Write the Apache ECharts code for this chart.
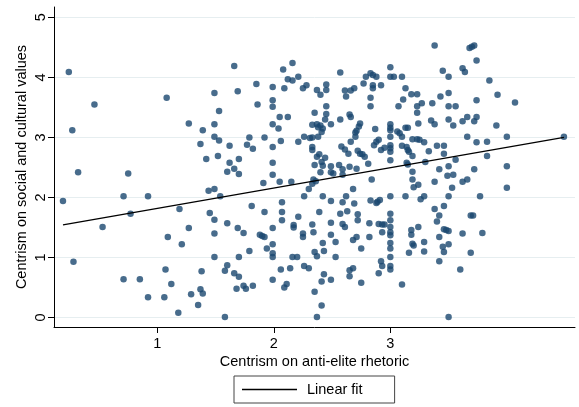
<!DOCTYPE html>
<html>
<head>
<meta charset="utf-8">
<script src="https://cdn.jsdelivr.net/npm/echarts@6/dist/echarts.min.js"></script>
<style>
html,body{margin:0;padding:0;background:#fff;}
#chart{width:579px;height:407px;}
</style>
</head>
<body>
<div id="chart"></div>
<script>
// Centrism on anti-elite rhetoric (x)
const antiElite = [
0.24,0.46,0.27,0.32,1.08,0.75,0.71,0.92,0.19,0.28,
0.53,0.71,0.85,0.77,0.92,1.06,1.07,1.12,1.09,1.19,
1.21,1.18,1.27,1.29,1.35,1.37,1.39,1.38,1.44,1.49,
1.54,1.45,1.49,1.49,1.49,1.60,1.58,1.58,1.60,1.69,
1.66,1.70,1.70,1.68,1.74,1.74,1.76,1.82,1.79,1.81,
1.88,1.90,1.92,1.92,1.94,1.99,1.99,1.99,1.99,1.99,
1.91,2.05,2.15,2.07,2.07,2.07,2.06,2.14,2.09,2.11,
2.17,2.17,2.16,2.20,2.21,1.27,1.37,1.39,1.42,1.49,
1.49,1.49,1.53,1.53,1.52,1.60,1.62,1.66,1.62,1.70,
1.70,1.66,1.69,1.77,1.79,1.82,1.85,1.86,1.92,1.99,
1.99,1.99,1.99,1.99,1.99,1.99,2.04,2.05,2.12,2.06,
2.08,2.16,2.09,2.12,2.16,2.21,2.21,2.25,2.28,2.26,
2.31,2.33,2.37,2.40,2.42,2.41,2.38,2.35,2.37,2.40,
2.45,2.45,2.45,2.45,2.44,2.49,2.38,2.33,2.33,2.35,
2.39,2.37,2.44,2.41,2.42,2.40,2.34,2.36,2.33,2.30,
2.26,2.42,2.49,2.49,2.51,2.56,2.59,2.59,
2.57,2.57,2.61,2.62,2.66,2.69,2.65,2.66,2.61,2.64,
2.65,2.71,2.66,2.70,2.71,2.70,2.73,2.74,2.72,2.74,
2.76,2.78,2.77,2.79,2.83,2.85,2.88,2.85,2.85,2.92,
2.83,2.83,2.87,2.81,2.84,2.86,2.88,2.90,2.92,2.95,
3.00,3.00,3.03,3.10,3.00,3.00,3.00,3.00,3.00,3.00,
3.00,3.00,3.06,3.08,3.10,3.13,3.11,3.07,3.13,3.15,
3.10,3.14,3.15,3.16,3.19,3.18,3.23,3.23,3.27,3.23,
3.24,3.19,3.23,3.25,3.29,3.14,3.15,3.19,3.19,3.20,
3.30,3.33,3.36,3.35,3.38,3.38,3.43,3.45,3.50,3.50,
3.50,3.56,3.50,3.54,3.40,3.46,3.46,3.42,3.50,3.49,
3.54,3.53,3.38,3.56,3.62,3.66,3.66,3.62,3.66,3.62,
3.64,3.68,3.72,3.70,3.74,3.74,3.72,3.74,3.74,3.83,
3.83,3.72,3.85,3.92,3.91,4.00,4.00,4.00,4.07,3.77,
4.49,2.49,2.62,2.68,2.83,2.91,2.88,2.89,3.00,3.13,
3.26,3.29,2.33,2.58,2.25,2.25,2.26,2.30,2.33,2.34,
2.35,2.37,2.35,2.37,2.41,2.41,2.43,2.39,2.42,2.43,
2.49,2.49,2.49,2.53,2.53,2.57,2.59,2.59,2.61,2.63,
2.69,2.72,2.72,2.68,2.71,2.75,2.65,2.68,2.65,2.75,
2.82,2.82,2.90,2.93,2.95,2.93,2.92,2.93,2.90,
3.00,3.00,3.00,3.00,3.00,3.00,3.00,3.00,3.00,3.00,
3.10,3.18,3.18,3.19,3.20,3.16,3.24,3.24,3.29,3.29,
3.38,3.46,3.42,3.40,3.42,3.46,3.48,3.50,3.50,3.45,
3.46,3.42,3.50,3.50,3.60,3.62,3.69,3.71,3.69,3.79
];
// Centrism on social and cultural values (y)
const socialCultural = [
4.09,3.55,3.12,2.42,3.66,2.40,2.02,2.02,1.94,0.93,
1.51,0.64,0.64,1.73,0.34,0.34,0.80,0.56,1.34,1.81,
1.22,0.08,1.49,0.39,0.21,0.47,0.40,0.77,2.11,2.14,
2.02,1.74,1.63,1.40,1.01,1.57,0.01,0.78,0.87,1.49,
0.74,0.68,1.01,0.48,1.41,0.53,0.48,0.53,1.11,1.86,
1.38,1.36,1.34,1.76,1.15,1.49,1.22,1.07,1.01,0.63,
2.24,2.26,2.26,1.92,1.76,1.62,0.80,0.82,0.50,0.56,
1.54,1.50,1.01,1.01,1.68,3.23,2.89,3.12,2.64,3.74,
3.22,3.01,3.44,2.95,2.69,2.43,2.58,2.48,2.86,2.64,
2.39,4.19,3.77,2.88,3.00,2.81,3.89,3.55,3.00,3.84,
3.62,3.51,3.22,2.84,2.58,2.38,3.15,3.34,3.34,2.94,
4.13,4.24,3.82,3.97,3.95,4.01,2.93,3.82,3.87,3.01,
2.99,3.21,3.22,3.20,3.15,3.09,3.17,3.41,3.79,3.71,
3.88,3.79,3.52,3.39,3.30,3.22,3.01,2.84,2.79,2.54,
2.72,2.68,2.66,2.59,2.53,2.42,2.30,2.27,2.23,2.14,
2.02,2.02,2.52,2.42,2.40,2.54,2.47,2.38,
4.08,3.30,3.78,3.68,3.78,3.82,3.38,3.34,2.80,2.73,
2.51,2.48,2.93,3.08,3.11,3.01,3.18,3.23,2.78,2.73,
2.72,2.68,3.90,4.01,4.07,4.04,4.01,3.87,3.82,3.87,
3.66,3.52,3.14,2.56,2.30,2.87,2.93,2.96,2.79,2.83,
4.17,4.01,4.01,4.01,3.22,3.16,3.12,3.01,2.87,2.82,
2.76,2.62,3.10,3.07,3.01,3.82,3.63,3.52,3.16,3.16,
2.86,2.84,2.79,2.76,2.69,3.72,3.72,3.52,3.57,3.41,
3.23,2.97,2.97,2.96,2.92,2.58,2.55,2.43,2.30,2.17,
2.59,2.77,3.57,3.28,3.22,4.53,3.68,4.11,4.01,3.74,
3.52,3.52,3.30,3.20,2.86,2.86,2.73,2.47,2.52,2.36,
2.38,2.16,2.26,2.63,3.27,3.34,3.01,2.26,2.30,4.15,
4.09,4.49,4.53,4.51,4.28,3.62,3.27,3.34,2.92,2.93,
2.69,2.47,3.95,3.71,3.20,3.01,2.52,2.16,3.58,2.02,
3.01,1.94,2.02,2.14,1.95,1.96,1.91,1.93,2.02,2.02,
1.97,2.02,3.00,2.85,1.40,1.34,0.86,0.82,1.55,1.42,
1.09,1.02,0.43,0.01,0.20,0.60,0.72,1.76,1.24,1.11,
1.58,1.38,0.63,1.26,1.01,1.73,1.92,1.56,1.51,1.77,
1.90,1.72,1.62,1.29,1.34,1.15,0.79,0.82,0.69,0.58,
1.57,1.34,1.56,1.55,1.55,1.42,0.94,0.86,0.74,
1.73,1.62,1.51,1.42,1.37,1.24,1.15,1.01,0.86,0.80,
0.55,1.46,1.38,1.23,1.20,1.08,2.21,1.51,1.26,1.10,
1.81,1.86,1.70,1.60,1.34,1.47,1.46,1.44,1.22,1.18,
1.09,0.94,0.01,2.02,0.80,1.40,1.70,1.70,1.08,1.41
];
// Linear fit endpoints
const fitX = [0.19, 4.49];
const fitY = [1.545, 3.0];
// Tick values
const xTicks = [1, 2, 3];
const yTicks = [0, 1, 2, 3, 4, 5];

const scatterData = antiElite.map((v, i) => [v, socialCultural[i]]);
const fitData = fitX.map((v, i) => [v, fitY[i]]);

const FONT = 'Liberation Sans, Arial, Helvetica, sans-serif';
const chart = echarts.init(document.getElementById('chart'), null, {renderer: 'canvas'});
chart.setOption({
  animation: false,
  backgroundColor: '#ffffff',
  textStyle: {fontFamily: FONT},
  grid: {left: 54, right: 4, top: 7, bottom: 80, containLabel: false, outerBoundsMode: 'none'},
  xAxis: {
    type: 'value',
    min: 0.113, max: 4.585,
    name: 'Centrism on anti-elite rhetoric',
    nameLocation: 'middle',
    nameGap: 27,
    nameMoveOverlap: false,
    nameTextStyle: {fontSize: 14.5, lineHeight: 15, color: '#000', fontFamily: FONT},
    axisLine: {show: true, onZero: false, lineStyle: {color: '#000', width: 1}},
    axisTick: {show: true, length: 6, customValues: xTicks, lineStyle: {color: '#000', width: 1}},
    axisLabel: {customValues: xTicks, fontSize: 14.5, color: '#000', margin: 9, fontFamily: FONT},
    splitLine: {show: false}
  },
  yAxis: {
    type: 'value',
    min: -0.157, max: 5.172,
    name: 'Centrism on social and cultural values',
    nameLocation: 'middle',
    nameGap: 25,
    nameMoveOverlap: false,
    nameTextStyle: {fontSize: 14.5, lineHeight: 15, color: '#000', fontFamily: FONT},
    axisLine: {show: true, onZero: false, lineStyle: {color: '#000', width: 1}},
    axisTick: {show: true, length: 6, customValues: yTicks, lineStyle: {color: '#000', width: 1}},
    axisLabel: {customValues: yTicks, rotate: 90, fontSize: 14.5, color: '#000', margin: 6, fontFamily: FONT},
    splitLine: {show: true, lineStyle: {color: '#e6eef0', width: 1}}
  },
  legend: {
    data: [{name: 'Linear fit', icon: 'rect'}],
    left: 234, top: 376,
    itemWidth: 55, itemHeight: 1.3,
    padding: [6, 32, 6, 8],
    borderColor: '#444', borderWidth: 1,
    itemStyle: {color: '#000', borderWidth: 0},
    textStyle: {fontSize: 14.5, color: '#000', padding: [0, 0, 0, 5], fontFamily: FONT}
  },
  series: [
    {
      type: 'scatter',
      name: 'points',
      data: scatterData,
      symbolSize: 6.5,
      itemStyle: {color: '#1a476f'},
      z: 2
    },
    {
      type: 'line',
      name: 'Linear fit',
      data: fitData,
      symbol: 'none',
      lineStyle: {color: '#000', width: 1.3},
      itemStyle: {color: '#000'},
      z: 3
    }
  ]
});
</script>
</body>
</html>
